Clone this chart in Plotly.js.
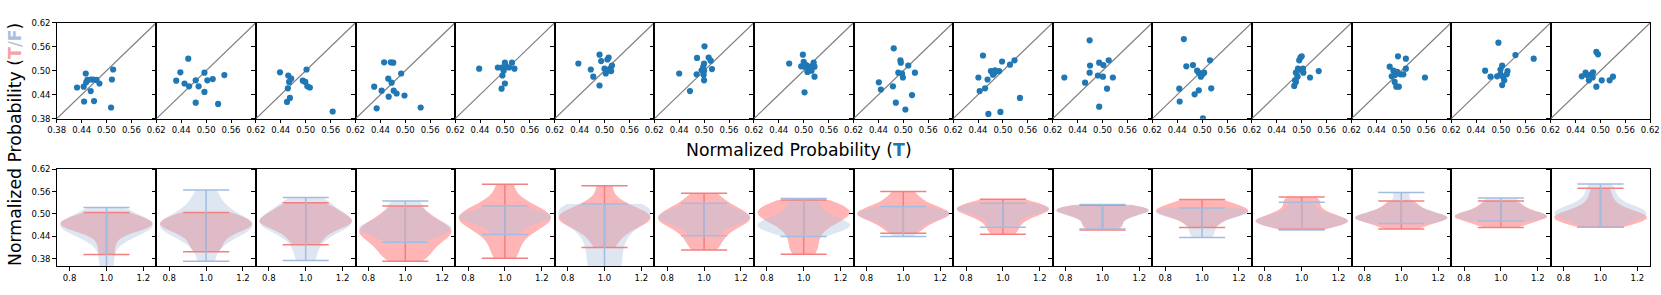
<!DOCTYPE html>
<html><head><meta charset="utf-8">
<script src="https://cdn.plot.ly/plotly-3.0.1.min.js"></script>
<style>html,body{margin:0;padding:0;background:#fff}#chart{width:1661px;height:295px}</style>
</head><body><div id="chart"></div><script>
// ---------- DATA ----------
// Top row: Normalized Probability (T) on x, (F) on y, one array per panel
const scatterT = [
 [0.429,0.445,0.450,0.446,0.451,0.454,0.462,0.462,0.468,0.476,0.483,0.470,0.511,0.513,0.516],
 [0.428,0.438,0.448,0.457,0.459,0.475,0.475,0.482,0.496,0.496,0.503,0.516,0.529,0.544],
 [0.438,0.458,0.465,0.460,0.457,0.462,0.455,0.493,0.499,0.502,0.504,0.510,0.565],
 [0.425,0.431,0.443,0.449,0.459,0.465,0.471,0.467,0.472,0.460,0.479,0.490,0.498,0.537],
 [0.438,0.483,0.492,0.500,0.497,0.502,0.510,0.517,0.523,0.494,0.500,0.492],
 [0.437,0.467,0.473,0.488,0.492,0.488,0.500,0.503,0.507,0.510,0.511,0.514,0.518,0.516],
 [0.440,0.466,0.482,0.483,0.494,0.498,0.500,0.499,0.500,0.501,0.511,0.516,0.519,0.500],
 [0.465,0.498,0.500,0.494,0.506,0.513,0.509,0.519,0.524,0.526,0.526,0.502,0.502,0.515],
 [0.441,0.446,0.475,0.477,0.482,0.488,0.493,0.494,0.497,0.499,0.505,0.512,0.521,0.528],
 [0.441,0.444,0.452,0.457,0.463,0.471,0.476,0.481,0.480,0.491,0.465,0.494,0.498,0.517,0.528,0.541],
 [0.408,0.458,0.469,0.470,0.469,0.492,0.492,0.489,0.502,0.515,0.501,0.525,0.511],
 [0.445,0.446,0.456,0.462,0.478,0.482,0.488,0.492,0.497,0.501,0.505,0.502,0.519,0.522,0.492],
 [0.482,0.484,0.486,0.490,0.494,0.497,0.500,0.491,0.500,0.504,0.503,0.520,0.541,0.486],
 [0.472,0.477,0.481,0.485,0.484,0.488,0.492,0.494,0.498,0.505,0.511,0.511,0.557,0.490],
 [0.462,0.475,0.494,0.491,0.499,0.503,0.505,0.508,0.503,0.516,0.514,0.535,0.579,0.499],
 [0.455,0.464,0.468,0.472,0.478,0.482,0.490,0.490,0.494,0.481,0.503,0.522,0.530]
];
const scatterF = [
 [0.458,0.460,0.493,0.423,0.471,0.477,0.478,0.449,0.478,0.477,0.468,0.424,0.408,0.478,0.503],
 [0.475,0.496,0.468,0.530,0.461,0.476,0.420,0.461,0.495,0.447,0.476,0.479,0.417,0.489],
 [0.496,0.488,0.480,0.472,0.456,0.432,0.422,0.475,0.472,0.503,0.461,0.458,0.398],
 [0.460,0.406,0.450,0.521,0.480,0.521,0.520,0.470,0.450,0.435,0.443,0.493,0.438,0.408],
 [0.505,0.508,0.508,0.520,0.500,0.512,0.508,0.520,0.505,0.488,0.468,0.455],
 [0.518,0.503,0.485,0.540,0.524,0.463,0.505,0.493,0.528,0.533,0.501,0.505,0.513,0.499],
 [0.493,0.449,0.491,0.532,0.501,0.510,0.518,0.489,0.476,0.561,0.533,0.525,0.504,0.500],
 [0.518,0.540,0.522,0.511,0.514,0.510,0.497,0.500,0.520,0.510,0.485,0.446,0.510,0.505],
 [0.471,0.453,0.461,0.556,0.420,0.495,0.526,0.520,0.493,0.483,0.403,0.513,0.439,0.495],
 [0.483,0.449,0.538,0.456,0.478,0.499,0.490,0.501,0.495,0.499,0.392,0.397,0.523,0.515,0.526,0.432],
 [0.483,0.470,0.576,0.513,0.495,0.410,0.520,0.488,0.514,0.526,0.485,0.483,0.455],
 [0.455,0.423,0.579,0.511,0.514,0.441,0.500,0.451,0.485,0.491,0.495,0.381,0.526,0.456,0.495],
 [0.462,0.476,0.495,0.485,0.526,0.533,0.536,0.505,0.501,0.495,0.505,0.483,0.499,0.472],
 [0.510,0.486,0.500,0.489,0.472,0.460,0.536,0.460,0.491,0.491,0.505,0.530,0.483,0.497],
 [0.500,0.485,0.570,0.486,0.503,0.513,0.485,0.476,0.464,0.499,0.491,0.539,0.530,0.491],
 [0.486,0.495,0.489,0.476,0.491,0.496,0.460,0.547,0.541,0.483,0.476,0.476,0.485]
];
// Bottom row: violin samples, T (red) and F (blue), one array per panel
const violinT = [
 [0.391,0.420,0.445,0.455,0.462,0.467,0.471,0.474,0.478,0.483,0.490,0.497,0.504],
 [0.398,0.415,0.432,0.446,0.456,0.463,0.468,0.472,0.477,0.483,0.490,0.497,0.504],
 [0.417,0.435,0.452,0.463,0.470,0.476,0.481,0.486,0.492,0.500,0.510,0.520,0.530],
 [0.373,0.390,0.405,0.420,0.432,0.442,0.450,0.456,0.463,0.472,0.485,0.500,0.5215],
 [0.381,0.410,0.438,0.458,0.470,0.479,0.486,0.492,0.498,0.506,0.517,0.535,0.580],
 [0.410,0.437,0.456,0.468,0.477,0.484,0.489,0.494,0.500,0.508,0.518,0.535,0.576],
 [0.403,0.425,0.445,0.462,0.473,0.481,0.487,0.492,0.498,0.507,0.518,0.533,0.5555],
 [0.3916,0.415,0.440,0.462,0.477,0.487,0.494,0.500,0.506,0.512,0.519,0.527,0.5376],
 [0.448,0.462,0.475,0.485,0.492,0.497,0.501,0.505,0.510,0.517,0.527,0.540,0.560],
 [0.4454,0.462,0.478,0.490,0.499,0.505,0.510,0.514,0.518,0.523,0.530,0.5394],
 [0.457,0.467,0.478,0.489,0.498,0.504,0.508,0.511,0.514,0.518,0.5233],
 [0.4633,0.477,0.488,0.496,0.501,0.505,0.509,0.513,0.518,0.524,0.531,0.5385],
 [0.4588,0.467,0.473,0.477,0.480,0.483,0.487,0.493,0.500,0.510,0.523,0.537,0.5457],
 [0.4597,0.469,0.477,0.483,0.487,0.490,0.493,0.497,0.503,0.511,0.522,0.5349],
 [0.4633,0.473,0.480,0.486,0.490,0.494,0.497,0.501,0.507,0.515,0.525,0.5349],
 [0.4642,0.474,0.481,0.486,0.490,0.493,0.497,0.503,0.512,0.525,0.545,0.569]
];
const violinF = [
 [0.330,0.380,0.425,0.445,0.455,0.462,0.466,0.470,0.474,0.480,0.488,0.500,0.517],
 [0.373,0.415,0.437,0.450,0.459,0.465,0.470,0.476,0.484,0.495,0.510,0.533,0.5645],
 [0.375,0.410,0.438,0.454,0.464,0.471,0.478,0.484,0.490,0.500,0.512,0.527,0.544],
 [0.424,0.436,0.446,0.453,0.458,0.462,0.466,0.472,0.480,0.490,0.505,0.520,0.535],
 [0.445,0.460,0.470,0.478,0.484,0.488,0.492,0.496,0.500,0.505,0.512,0.522],
 [0.330,0.355,0.380,0.405,0.430,0.452,0.468,0.480,0.491,0.500,0.508,0.514,0.519,0.523,0.527],
 [0.441,0.456,0.469,0.477,0.483,0.488,0.492,0.497,0.503,0.510,0.518,0.5287],
 [0.439,0.448,0.456,0.462,0.467,0.471,0.475,0.480,0.487,0.497,0.510,0.525,0.5412],
 [0.439,0.458,0.472,0.483,0.490,0.495,0.499,0.503,0.507,0.512,0.5197],
 [0.4642,0.476,0.489,0.498,0.505,0.510,0.513,0.516,0.520,0.524,0.5287],
 [0.4597,0.471,0.483,0.492,0.499,0.504,0.508,0.511,0.515,0.520,0.5251],
 [0.4364,0.455,0.472,0.486,0.495,0.500,0.504,0.507,0.510,0.513,0.5161],
 [0.457,0.466,0.472,0.477,0.481,0.484,0.488,0.494,0.502,0.515,0.5313],
 [0.474,0.479,0.484,0.488,0.491,0.494,0.498,0.505,0.515,0.530,0.5573],
 [0.4812,0.486,0.490,0.493,0.496,0.500,0.505,0.512,0.522,0.533,0.543],
 [0.4642,0.478,0.488,0.495,0.500,0.504,0.508,0.514,0.524,0.540,0.560,0.5806]
];
const probTicks = [0.38, 0.44, 0.50, 0.56, 0.62];
const probTickText = ['0.38','0.44','0.50','0.56','0.62'];
const posTicks = [0.8, 1.0, 1.2];
const posTickText = ['0.8','1.0','1.2'];
const probRange = [0.38, 0.62];
const violinYRange = [0.36, 0.62];
const posRange = [0.73, 1.27];

// ---------- STYLE / LAYOUT ----------
const W = 1661, H = 295;
const L0 = 56.7, PW = 99.6;
const topY = [22.7, 118.7], botY = [169.3, 266];
const redFill = 'rgba(255,0,0,0.29)', blueFill = 'rgba(176,196,222,0.42)';
const redLine = '#f28080', blueLine = '#a2bddf';
const N = scatterT.length;
const bwScale = 0.8;

// Scott's rule bandwidth (as gaussian_kde), slightly narrowed
function scottBw(v) {
  const n = v.length, m = v.reduce((a, c) => a + c, 0) / n;
  const sd = Math.sqrt(v.reduce((a, c) => a + (c - m) * (c - m), 0) / (n - 1));
  return bwScale * sd * Math.pow(n, -0.2);
}

const axBase = {showline:true, mirror:true, linecolor:'#000', linewidth:1, ticks:'outside',
  ticklen:3.5, tickwidth:1, tickcolor:'#000', showgrid:false, zeroline:false, fixedrange:true,
  type:'linear', tickfont:{family:'DejaVu Sans', size:8.5, color:'#000'}, automargin:false};

const layout = {width:W, height:H, margin:{l:0,r:0,t:0,b:0}, paper_bgcolor:'#fff', plot_bgcolor:'#fff',
  showlegend:false, hovermode:false, violinmode:'overlay', font:{family:'DejaVu Sans', color:'#000'},
  annotations:[
    {xref:'paper', yref:'paper', x:798.7/W, y:1-150/H, xanchor:'center', yanchor:'middle', showarrow:false,
     text:'Normalized Probability (<b><span style="color:#1f77b4">T</span></b>)', font:{family:'DejaVu Sans', size:17.3, color:'#000'}},
    {xref:'paper', yref:'paper', x:15/W, y:1-145/H, xanchor:'center', yanchor:'middle', showarrow:false, textangle:-90,
     text:'Normalized Probability (<b><span style="color:#f4a3a3">T</span></b><span style="color:#b9b9c9">/</span><b><span style="color:#a8c0e0">F</span></b>)', font:{family:'DejaVu Sans', size:17.3, color:'#000'}}
  ]};

const traces = [];
for (let i = 0; i < N; i++) {
  const xd = [(L0 + i*PW)/W, (L0 + (i+1)*PW)/W];
  const t = i + 1, b = i + 1 + N;
  const tk = (n) => n === 1 ? '' : String(n);
  layout['xaxis' + tk(t)] = Object.assign({}, axBase, {domain:xd, range:probRange, anchor:'y'+tk(t),
    tickmode:'array', tickvals:probTicks, ticktext: i === 0 ? probTickText : [''].concat(probTickText.slice(1))});
  layout['yaxis' + tk(t)] = Object.assign({}, axBase, {domain:[1-topY[1]/H, 1-topY[0]/H], range:probRange, anchor:'x'+tk(t),
    tickmode:'array', tickvals:probTicks, ticktext:probTickText, showticklabels: i === 0});
  layout['xaxis' + b] = Object.assign({}, axBase, {domain:xd, range:posRange, anchor:'y'+b,
    tickmode:'array', tickvals:posTicks, ticktext:posTickText});
  layout['yaxis' + b] = Object.assign({}, axBase, {domain:[1-botY[1]/H, 1-botY[0]/H], range:violinYRange, anchor:'x'+b,
    tickmode:'array', tickvals:probTicks, ticktext:probTickText, showticklabels: i === 0});

  const xa = 'x' + tk(t), ya = 'y' + tk(t);
  traces.push({type:'scatter', mode:'lines', xaxis:xa, yaxis:ya, x:probRange, y:probRange,
    line:{color:'#808080', width:1.2}, hoverinfo:'skip'});
  traces.push({type:'scatter', mode:'markers', xaxis:xa, yaxis:ya, x:scatterT[i], y:scatterF[i],
    marker:{color:'#1f77b4', size:6.2, line:{width:0}}, hoverinfo:'skip'});

  const xb = 'x' + b, yb = 'y' + b;
  [[violinT[i], redFill], [violinF[i], blueFill]].forEach(([vals, fill]) => {
    traces.push({type:'violin', xaxis:xb, yaxis:yb, x0:1, y:vals, width:0.5, spanmode:'hard', points:false,
      bandwidth: scottBw(vals),
      box:{visible:false}, meanline:{visible:false}, fillcolor:fill, line:{color:'rgba(0,0,0,0)', width:0},
      scalemode:'width', side:'both', orientation:'v', hoverinfo:'skip', name:''});
  });
  [[violinT[i], redLine], [violinF[i], blueLine]].forEach(([vals, lc]) => {
    const mn = Math.min(...vals), mx = Math.max(...vals);
    traces.push({type:'scatter', mode:'lines', xaxis:xb, yaxis:yb,
      x:[0.875, 1.125, null, 1, 1, null, 0.875, 1.125], y:[mx, mx, null, mx, mn, null, mn, mn],
      line:{color:lc, width:1.5}, hoverinfo:'skip'});
  });
}
Plotly.newPlot('chart', traces, layout, {staticPlot:true, displayModeBar:false});
</script></body></html>
